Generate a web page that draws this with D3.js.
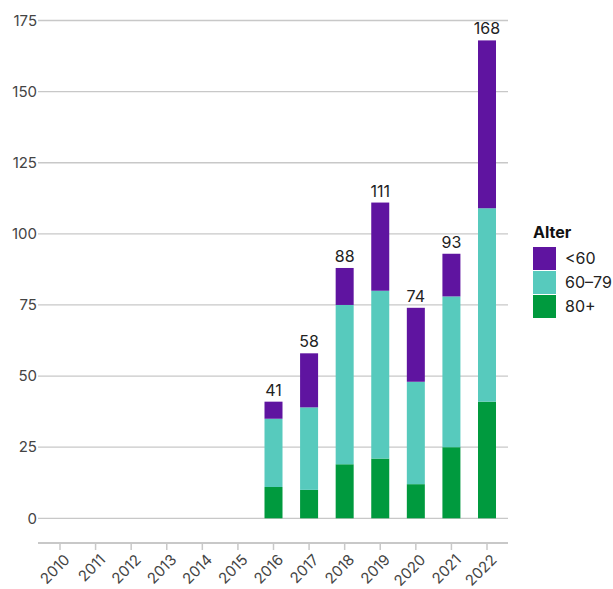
<!DOCTYPE html>
<html><head><meta charset="utf-8">
<script src="https://cdn.jsdelivr.net/npm/d3@7"></script>
<style>body{margin:0;background:#fff;font-family:Inter,Roboto,sans-serif}</style>
</head><body><svg id="c" width="613" height="589"></svg>
<script>
const years = ["2010","2011","2012","2013","2014","2015","2016","2017","2018","2019","2020","2021","2022"];
const age80 =   [0,0,0,0,0,0,11,10,19,21,12,25,41];
const age6079 = [0,0,0,0,0,0,24,29,56,59,36,53,68];
const ageU60 =  [0,0,0,0,0,0,6,19,13,31,26,15,59];
const yTicks = [0,25,50,75,100,125,150,175];
const seriesNames = ["<60","60–79","80+"];
const colors = {"80+":"#009a3e","60–79":"#57cabd","<60":"#5f14a0"};

const rows = years.map((y,i)=>({year:y,"80+":age80[i],"60–79":age6079[i],"<60":ageU60[i]}));
const stack = d3.stack().keys(["80+","60–79","<60"])(rows);

const svg = d3.select("#c");
const x = d3.scalePoint().domain(years).range([60,487]);
const y = d3.scaleLinear().domain([0,175]).range([518.3,20.5]);

// grid
const g = svg.append("g");
g.selectAll("line.grid").data(yTicks).join("line")
  .attr("x1",38).attr("x2",508).attr("y1",d=>y(d)).attr("y2",d=>y(d))
  .attr("stroke","#c8c8c8").attr("stroke-width",1.3);
g.selectAll("text.yl").data(yTicks).join("text")
  .attr("x",37).attr("y",d=>y(d)).attr("dy","0.35em").attr("text-anchor","end")
  .attr("font-size",15).attr("fill","#444").text(d=>d);

// bars
svg.append("g").selectAll("g").data(stack).join("g")
  .attr("fill",d=>colors[d.key])
  .selectAll("rect").data(d=>d).join("rect")
  .attr("x",d=>x(d.data.year)-9).attr("width",18)
  .attr("y",d=>y(d[1])).attr("height",d=>y(d[0])-y(d[1]));

// totals
const totals = rows.map((r,i)=>({year:r.year,t:age80[i]+age6079[i]+ageU60[i]})).filter(d=>d.t>0);
svg.append("g").selectAll("text").data(totals).join("text")
  .attr("x",d=>x(d.year)).attr("y",d=>y(d.t)-6)
  .attr("text-anchor","middle").attr("font-size",16).attr("fill","#222").text(d=>d.t);

// x axis
const xa = svg.append("g");
xa.append("line").attr("x1",38).attr("x2",508).attr("y1",543).attr("y2",543)
  .attr("stroke","#c8c8c8").attr("stroke-width",2);
xa.selectAll("line.t").data(years).join("line")
  .attr("x1",d=>x(d)).attr("x2",d=>x(d))
  .attr("y1",543).attr("y2",550).attr("stroke","#c8c8c8").attr("stroke-width",1.5);
xa.selectAll("text").data(years).join("text")
  .attr("transform",d=>`translate(${x(d)+7},${557}) rotate(-45)`)
  .attr("text-anchor","end").attr("dy","0.35em").attr("font-size",15).attr("fill","#444").text(d=>d);

// legend
const lg = svg.append("g");
lg.append("text").attr("x",533).attr("y",238).attr("font-size",16).attr("font-weight","bold").attr("fill","#111").text("Alter");
lg.selectAll("rect").data(seriesNames).join("rect")
  .attr("x",533).attr("y",(d,i)=>247+i*24).attr("width",23).attr("height",23)
  .attr("fill",d=>colors[d]);
lg.selectAll("text.l").data(seriesNames).join("text")
  .attr("x",565).attr("y",(d,i)=>258.5+i*24).attr("dy","0.35em")
  .attr("font-size",16).attr("fill","#222").text(d=>d);
</script></body></html>
